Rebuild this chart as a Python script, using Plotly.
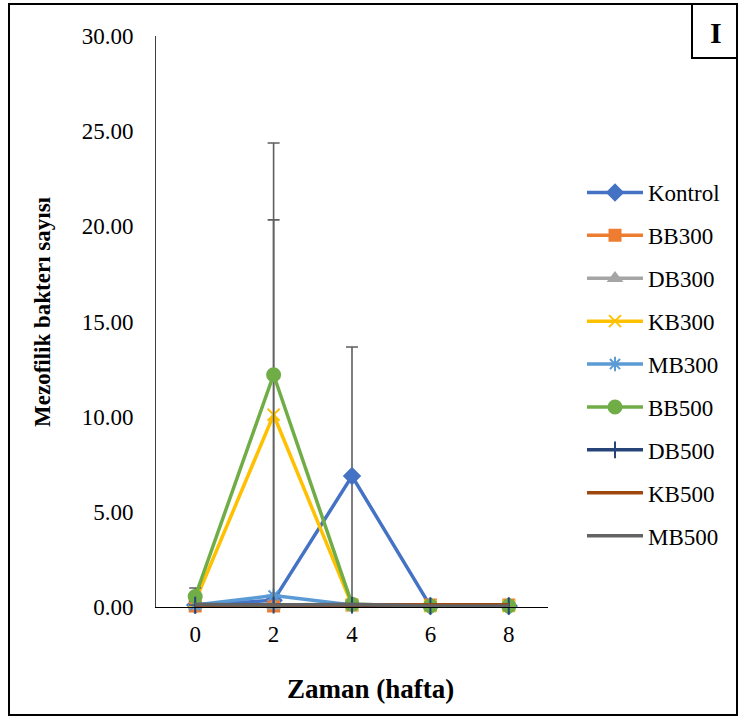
import plotly.graph_objects as go

weeks = ["0", "2", "4", "6", "8"]
series = ["Kontrol", "BB300", "DB300", "KB300", "MB300", "BB500", "DB500", "KB500", "MB500"]
values = {
    "Kontrol": [0.10, 0.35, 6.88, 0.05, 0.05],
    "BB300":   [0.05, 0.05, 0.10, 0.10, 0.10],
    "DB300":   [0.05, 0.05, 0.10, 0.05, 0.05],
    "KB300":   [0.30, 10.10, 0.10, 0.05, 0.05],
    "MB300":   [0.10, 0.60, 0.10, 0.05, 0.05],
    "BB500":   [0.55, 12.20, 0.15, 0.05, 0.05],
    "DB500":   [0.10, 0.10, 0.10, 0.05, 0.05],
    "KB500":   [0.10, 0.10, 0.10, 0.12, 0.12],
    "MB500":   [0.15, 0.10, 0.15, 0.05, 0.05],
}
errors = {
    "Kontrol": [0, 0, 6.78, 0, 0],
    "KB300":   [0, 10.24, 0, 0, 0],
    "BB500":   [0.45, 12.18, 0, 0, 0],
}
colors = {
    "Kontrol": "#4472C4", "BB300": "#ED7D31", "DB300": "#A5A5A5", "KB300": "#FFC000",
    "MB300": "#5B9BD5", "BB500": "#70AD47", "DB500": "#264478", "KB500": "#9E480E",
    "MB500": "#636363",
}
symbols = {
    "Kontrol": ("diamond", 12), "BB300": ("square", 11), "DB300": ("triangle-up", 11),
    "KB300": ("x-thin-open", 12), "MB300": ("asterisk-open", 12), "BB500": ("circle", 13),
    "DB500": ("line-ns-open", 12), "KB500": None, "MB500": None,
}

FONT = "Liberation Serif"
fig = go.Figure()
for i, s in enumerate(series):
    sym = symbols[s]
    kw = {}
    if sym is None:
        mode = "lines"
    else:
        mode = "lines+markers"
        kw["marker"] = dict(symbol=sym[0], size=sym[1], color=colors[s],
                            line=dict(color=colors[s], width=2))
    if s in errors:
        kw["error_y"] = dict(type="data", array=errors[s], symmetric=True,
                             color="#5f5f5f", thickness=1.6, width=6)
    fig.add_trace(go.Scatter(x=weeks, y=values[s], name=s, mode=mode,
                             line=dict(color=colors[s], width=3.5),
                             legendgroup=f"g{i}", cliponaxis=False, **kw))

W, H = 738, 719
L, R, T, B = 156, 548, 36, 607
def px(x): return (x - L) / (R - L)
def py(y): return (B - y) / (B - T)

fig.update_layout(
    width=W, height=H,
    margin=dict(l=L, r=W - R, t=T, b=H - B),
    plot_bgcolor="white", paper_bgcolor="white",
    font=dict(family=FONT, size=23, color="black"),
    xaxis=dict(type="category", range=[-0.5, 4.5], showgrid=False, zeroline=False,
               showline=True, linecolor="black", linewidth=1, ticks="",
               tickfont=dict(size=23, family=FONT), ticklabelstandoff=6),
    yaxis=dict(range=[0, 30], tickvals=[0, 5, 10, 15, 20, 25, 30],
               ticktext=["0.00", "5.00", "10.00", "15.00", "20.00", "25.00", "30.00"],
               showgrid=False, zeroline=False, showline=True, linecolor="#404040",
               linewidth=1, ticks="", tickfont=dict(size=23, family=FONT),
               ticklabelstandoff=17),
    legend=dict(x=px(582), y=py(171), xanchor="left", yanchor="top",
                font=dict(size=23, family=FONT), tracegroupgap=10,
                bgcolor="rgba(0,0,0,0)", itemwidth=56),
    showlegend=True,
)
fig.add_annotation(text="<b>Zaman (hafta)</b>", xref="paper", yref="paper",
                   x=px(370), y=py(689), xanchor="center", yanchor="middle",
                   showarrow=False, font=dict(size=27, family=FONT))
fig.add_annotation(text="<b>Mezofilik bakterı sayısı</b>", xref="paper", yref="paper",
                   x=px(42), y=py(312), xanchor="center", yanchor="middle",
                   showarrow=False, textangle=-90,
                   font=dict(size=23, family=FONT))
fig.add_annotation(text="<b>I</b>", xref="paper", yref="paper",
                   x=px(716), y=py(32), xanchor="center", yanchor="middle",
                   showarrow=False, font=dict(size=30, family=FONT))
fig.add_shape(type="rect", xref="paper", yref="paper",
              x0=px(9), x1=px(737), y0=py(715), y1=py(4),
              line=dict(color="black", width=2))
fig.add_shape(type="rect", xref="paper", yref="paper",
              x0=px(692), x1=px(737), y0=py(58), y1=py(4),
              line=dict(color="black", width=2))

fig.write_html("out.html")
